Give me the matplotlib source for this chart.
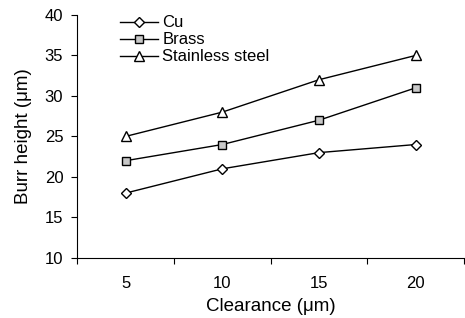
import matplotlib.pyplot as plt

plt.rcParams['font.family'] = ['Liberation Sans', 'DejaVu Sans']

# Data
clearance = ['5', '10', '15', '20']
cu = [18, 21, 23, 24]
brass = [22, 24, 27, 31]
stainless = [25, 28, 32, 35]

fig = plt.figure(figsize=(4.65, 3.18), dpi=100)
ax = fig.add_axes([0.166, 0.189, 0.832, 0.764])

x = range(len(clearance))
ax.plot(x, cu, color='black', lw=1, marker='D', ms=5.5, mfc='white', mec='black', mew=1, label='Cu')
ax.plot(x, brass, color='black', lw=1, marker='s', ms=6, mfc='#c8c8c8', mec='black', mew=1, label='Brass')
ax.plot(x, stainless, color='black', lw=1, marker='^', ms=7.5, mfc='white', mec='black', mew=1, label='Stainless steel')

ax.set_xlim(-0.5, len(clearance) - 0.5)
ax.set_ylim(10, 40)
ax.set_yticks(range(10, 41, 5))
ax.set_xticks([i - 0.5 for i in range(len(clearance) + 1)])
ax.set_xticklabels([])
ax.set_xticks(list(x), minor=True)
ax.set_xticklabels(clearance, minor=True)
ax.tick_params(axis='x', which='minor', length=0, labelsize=12, pad=13)
ax.tick_params(axis='x', which='major', length=4, direction='out')
ax.tick_params(axis='y', length=4, direction='out', labelsize=12, pad=6)

ax.spines['top'].set_visible(False)
ax.spines['right'].set_visible(False)

ax.set_xlabel('Clearance (\u03bcm)', fontsize=13.5, labelpad=5)
ax.set_ylabel('Burr height (\u03bcm)', fontsize=13.5, labelpad=9)

ax.legend(loc='upper left', bbox_to_anchor=(0.111, 0.998), frameon=False, fontsize=12,
          borderpad=0, borderaxespad=0, handlelength=2.27, handletextpad=0.25,
          labelspacing=0.12)

fig.savefig('out.png', dpi=100)
